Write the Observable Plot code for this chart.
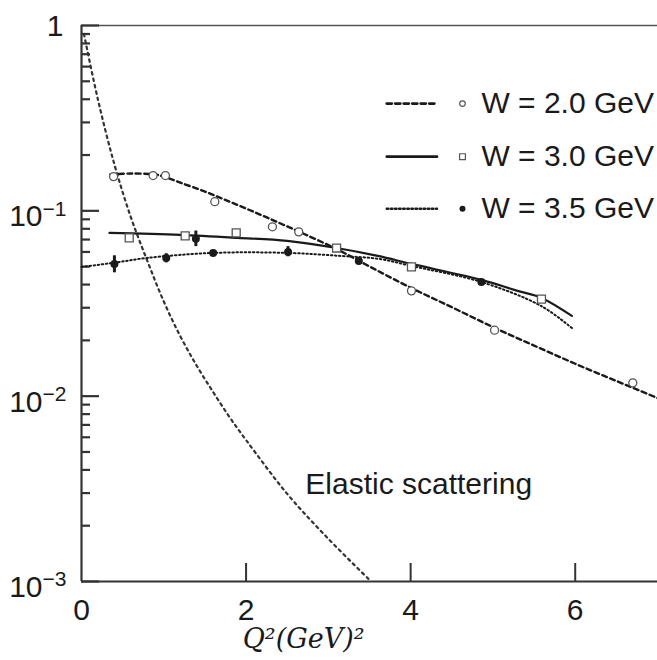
<!DOCTYPE html>
<html><head><meta charset="utf-8">
<script src="https://cdn.jsdelivr.net/npm/d3@7"></script>
<script src="https://cdn.jsdelivr.net/npm/@observablehq/plot@0.6"></script>
<style>body{margin:0;background:#fff;}</style>
</head><body><div id="chart"></div>
<script>
// ---------- data ----------
// measured points, W = 2.0 GeV (open circles)
const w20X = [0.39, 0.87, 1.02, 1.62, 2.32, 2.64, 4.01, 5.02, 6.70];
const w20Y = [0.153, 0.155, 0.155, 0.112, 0.082, 0.077, 0.037, 0.0227, 0.0118];
// measured points, W = 3.0 GeV (open squares)
const w30X = [0.58, 1.26, 1.88, 3.10, 4.01, 5.59];
const w30Y = [0.0715, 0.0732, 0.076, 0.063, 0.0498, 0.0334];
// measured points, W = 3.5 GeV (filled circles) with error bars
const w35X = [0.40, 1.03, 1.39, 1.60, 2.51, 3.37, 4.86];
const w35Y = [0.0517, 0.0557, 0.0706, 0.0593, 0.060, 0.0537, 0.0413];
const w35Lo = [0.0463, 0.0524, 0.0641, 0.0580, 0.0565, 0.0525, 0.0403];
const w35Hi = [0.0572, 0.0587, 0.0778, 0.0606, 0.0641, 0.0550, 0.0423];
// fit curves
const fit20X = [0.35, 0.6, 0.9, 1.0, 1.2, 1.5, 1.8, 2.1, 2.4, 2.7, 3.1, 3.5, 4.0, 4.5, 5.0, 5.5, 6.0, 6.5, 7.0];
const fit20Y = [0.157, 0.159, 0.157, 0.153, 0.142, 0.127, 0.112, 0.0985, 0.0862, 0.0752, 0.0622, 0.0501, 0.0385, 0.0302, 0.0236, 0.01875, 0.01496, 0.01208, 0.00977];
const fit30X = [0.34, 1.2, 1.9, 2.5, 3.1, 3.6, 4.01, 4.86, 5.3, 5.59, 5.96];
const fit30Y = [0.076, 0.0742, 0.0715, 0.0688, 0.063, 0.0571, 0.0517, 0.0424, 0.037, 0.0339, 0.0271];
const fit35X = [0.0, 0.4, 0.8, 1.6, 2.5, 3.15, 3.62, 4.01, 4.86, 5.59, 5.96];
const fit35Y = [0.0498, 0.0525, 0.0557, 0.0593, 0.0593, 0.0571, 0.055, 0.0504, 0.0413, 0.0306, 0.0233];
// elastic scattering curve
const elasticX = [0.03, 0.2, 0.4, 0.6, 0.8, 1.0, 1.2, 1.4, 1.6, 1.8, 2.0, 2.5, 3.0, 3.5];
const elasticY = [0.9, 0.398, 0.178, 0.0923, 0.0537, 0.0324, 0.0211, 0.0146, 0.01052, 0.0077, 0.0058, 0.00297, 0.0017, 0.00102];
// texts and ticks
const seriesLabels = ["W = 2.0 GeV", "W = 3.0 GeV", "W = 3.5 GeV"];
const elasticLabel = "Elastic scattering";
const xTitle = "Q²(GeV)²";
const xTickLabels = [0, 2, 4, 6];
const xTickMarks = [2, 4, 6];
const yMajor = [0.001, 0.01, 0.1, 1];
const yBase = ["10", "10", "10", "1"];
const yExp = ["−3", "−2", "−1", ""];
const yMinor = [0.001, 0.01, 0.1].flatMap(d => [2,3,4,5,6,7,8,9].map(k => +(k * d).toPrecision(3)));

// ---------- tables ----------
const zip = (X, Y) => X.map((x, i) => ({x, y: Y[i]}));
const pts20 = zip(w20X, w20Y), pts30 = zip(w30X, w30Y);
const pts35 = w35X.map((x, i) => ({x, y: w35Y[i], lo: w35Lo[i], hi: w35Hi[i]}));
const fit20 = zip(fit20X, fit20Y), fit30 = zip(fit30X, fit30Y), fit35 = zip(fit35X, fit35Y);
const elastic = zip(elasticX, elasticY);
const yLabels = yMajor.map((v, i) => ({v, base: yBase[i], exp: yExp[i]}));

// ---------- layout ----------
const W = 657, H = 660, mL = 81, mR = 0, mT = 25, mB = 79;
const frameW = W - mL - mR, frameH = H - mT - mB;
const legX = {lineStart: 3.71, lineEnd: 4.32, marker: 4.63, text: 4.86};
const legRowY = [0.379, 0.196, 0.1025];
const lineStyles = [
  {strokeDasharray: "5,3.5", strokeWidth: 2.4},
  {strokeDasharray: null, strokeWidth: 2.2},
  {strokeDasharray: "1.5,2.6", strokeWidth: 2}
];
const ink = "#1a1a1a";
const axisInk = "#333";

const legendMarks = seriesLabels.flatMap((lab, i) => {
  const row = [{x: legX.lineStart, y: legRowY[i]}, {x: legX.lineEnd, y: legRowY[i]}];
  const m = [{x: legX.marker, y: legRowY[i]}];
  const dot = i === 0 ? Plot.dot(m, {x: "x", y: "y", r: 2.8, stroke: "#555", strokeWidth: 1.2, fill: "white"})
            : i === 1 ? Plot.dot(m, {x: "x", y: "y", r: 3.3, symbol: "square", stroke: "#555", strokeWidth: 1.2, fill: "white"})
            : Plot.dot(m, {x: "x", y: "y", r: 3, fill: ink});
  return [
    Plot.line(row, {x: "x", y: "y", stroke: ink, strokeWidth: lineStyles[i].strokeWidth + 0.5, strokeDasharray: lineStyles[i].strokeDasharray}),
    dot,
    Plot.text([lab], {x: legX.text, y: legRowY[i], text: d => d, textAnchor: "start", fontSize: 30, fill: ink})
  ];
});

const chart = Plot.plot({
  width: W, height: H,
  marginLeft: mL, marginRight: mR, marginTop: mT, marginBottom: mB,
  x: {domain: [0, 7]},
  y: {type: "log", domain: [0.001, 1]},
  style: {fontFamily: "'Liberation Sans', Arial, sans-serif", fontSize: "30px", color: ink, background: "#fff", overflow: "visible"},
  marks: [
    // frame lines
    Plot.ruleY([1], {stroke: "#555", strokeWidth: 1.5}),
    Plot.ruleY([0.001], {stroke: axisInk, strokeWidth: 2}),
    Plot.ruleX([0], {stroke: axisInk, strokeWidth: 2.2}),
    // inward ticks
    Plot.tickY(yMajor, {y: d => d, insetRight: frameW - 18, stroke: axisInk, strokeWidth: 2.2}),
    Plot.tickY(yMinor, {y: d => d, insetRight: frameW - 9, stroke: axisInk, strokeWidth: 2.2}),
    Plot.tickX(xTickMarks, {x: d => d, insetTop: frameH - 18, stroke: axisInk, strokeWidth: 2}),
    // x tick labels
    Plot.axisX({ticks: xTickLabels, tickSize: 0, tickPadding: 17, tickFormat: d => String(d), fontSize: 30, fill: ink, label: null}),
    Plot.axisY({ticks: [], tickSize: 0, label: null}),
    // y tick labels (10 with superscript exponent)
    Plot.text(yLabels.filter(d => d.exp), {y: "v", text: "base", frameAnchor: "left", textAnchor: "end", dx: -39, dy: 6, fontSize: 30, fill: ink}),
    Plot.text(yLabels.filter(d => d.exp), {y: "v", text: "exp", frameAnchor: "left", textAnchor: "start", dx: -39, dy: -2, fontSize: 21, fill: ink}),
    Plot.text(yLabels.filter(d => !d.exp), {y: "v", text: "base", frameAnchor: "left", textAnchor: "end", dx: -18, dy: 1, fontSize: 30, fill: ink}),
    // curves
    Plot.line(elastic, {x: "x", y: "y", stroke: "#333", strokeWidth: 2.2, strokeDasharray: "2.5,4", curve: "catmull-rom"}),
    Plot.line(fit35, {x: "x", y: "y", stroke: ink, strokeWidth: lineStyles[2].strokeWidth, strokeDasharray: lineStyles[2].strokeDasharray, curve: "catmull-rom"}),
    Plot.line(fit30, {x: "x", y: "y", stroke: ink, strokeWidth: lineStyles[1].strokeWidth, curve: "catmull-rom"}),
    Plot.line(fit20, {x: "x", y: "y", stroke: ink, strokeWidth: lineStyles[0].strokeWidth, strokeDasharray: lineStyles[0].strokeDasharray, curve: "catmull-rom"}),
    // data points
    Plot.ruleX(pts35, {x: "x", y1: "lo", y2: "hi", stroke: ink, strokeWidth: 3}),
    Plot.dot(pts20, {x: "x", y: "y", r: 4, stroke: "#555", strokeWidth: 1.3, fill: "white"}),
    Plot.dot(pts30, {x: "x", y: "y", r: 4.5, symbol: "square", stroke: "#555", strokeWidth: 1.3, fill: "white"}),
    Plot.dot(pts35, {x: "x", y: "y", r: 4, fill: ink}),
    // annotation
    Plot.text([elasticLabel], {x: 2.72, y: 0.00333, text: d => d, textAnchor: "start", fontSize: 30, fill: ink}),
    // x axis title
    Plot.text([xTitle], {x: 2.70, frameAnchor: "bottom", dy: 66, text: d => d, fontFamily: "'DejaVu Serif', serif", fontStyle: "italic", fontSize: 27, fill: ink}),
    ...legendMarks
  ]
});
document.getElementById("chart").append(chart);
</script>
</body></html>
